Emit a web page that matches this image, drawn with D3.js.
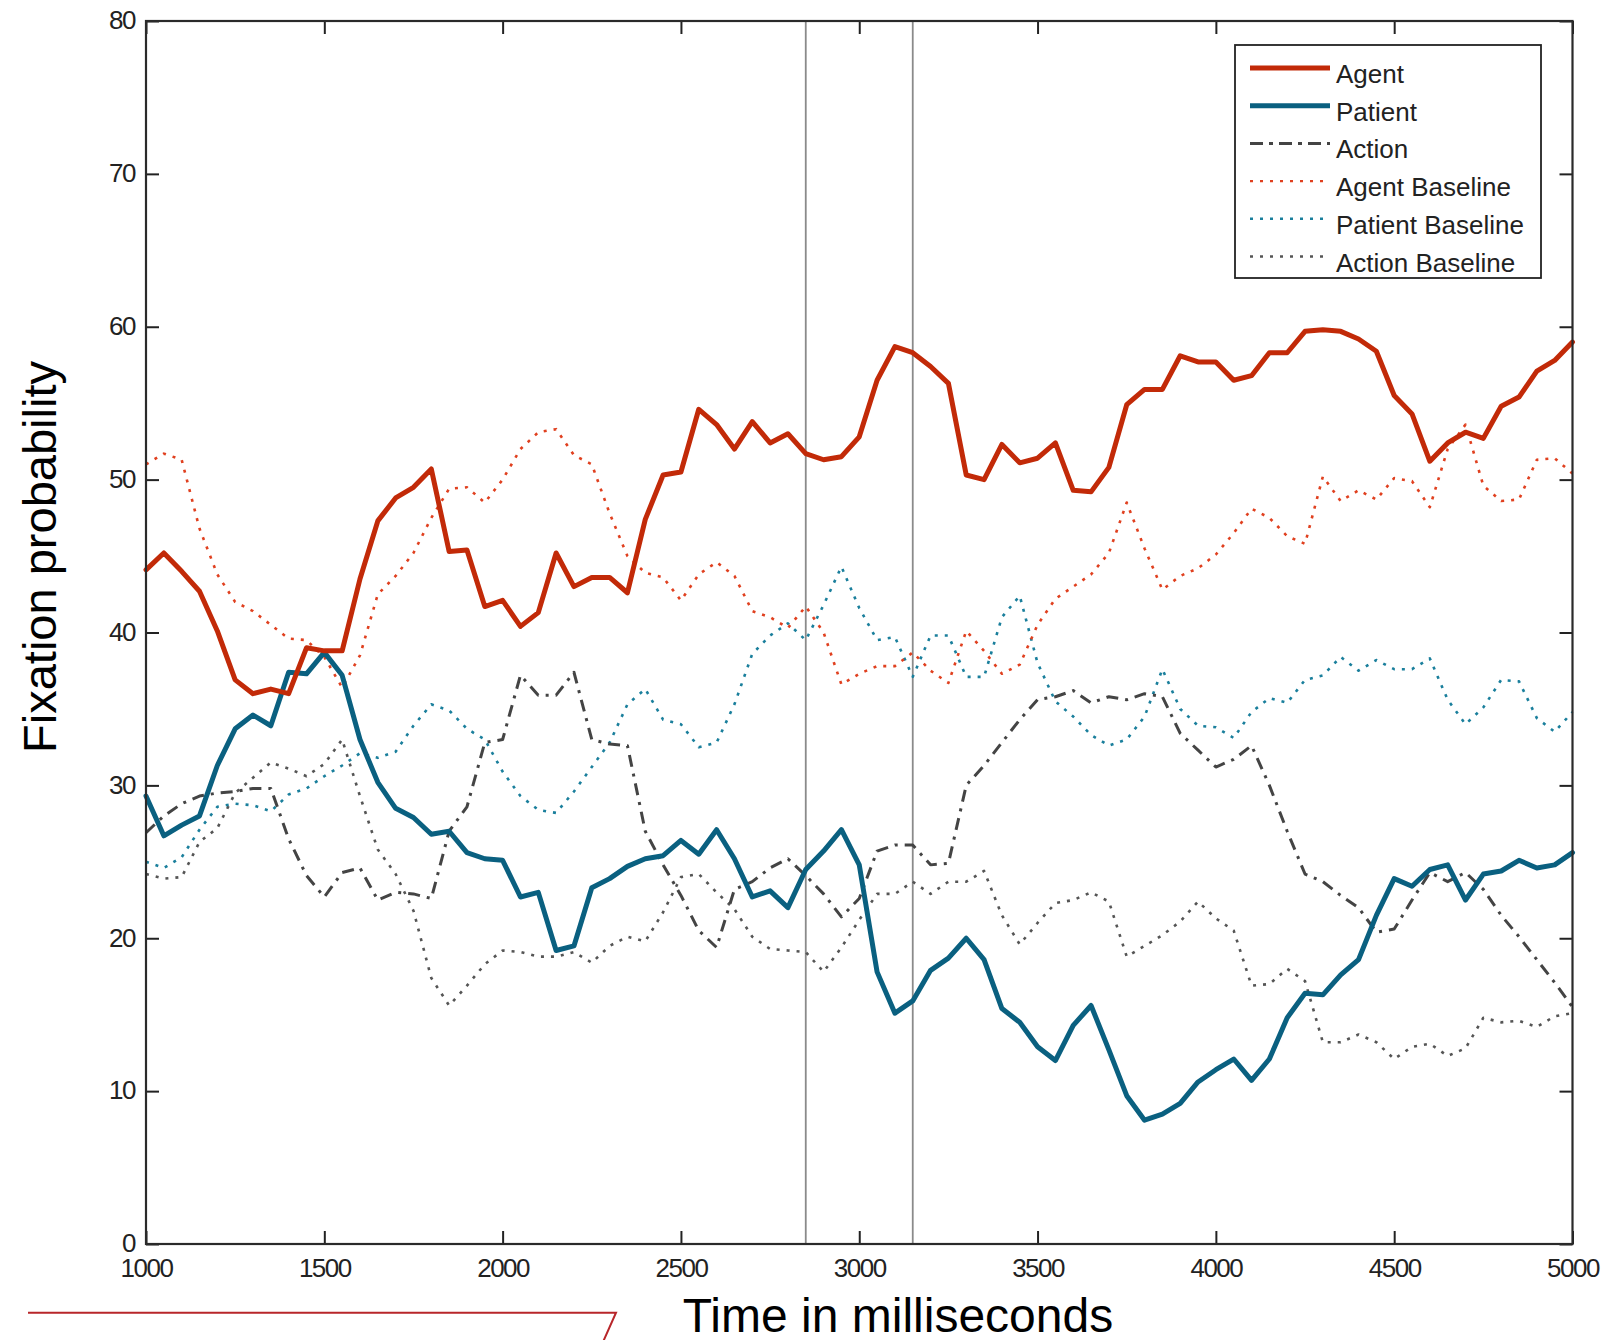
<!DOCTYPE html>
<html>
<head>
<meta charset="utf-8">
<script src="https://cdn.jsdelivr.net/npm/d3@7/dist/d3.min.js"></script>
<style>
  html, body { margin: 0; padding: 0; background: #fff; }
  svg { display: block; }
  .tick text { font-family: "Liberation Sans", Arial, sans-serif; font-size: 26px; fill: #222; letter-spacing: -1.5px; }
</style>
</head>
<body>
<svg id="chart" width="1602" height="1340"></svg>
<script>
// ---------- DATA ----------
const timeMs = [1000,1050,1100,1150,1200,1250,1300,1350,1400,1450,1500,1550,1600,1650,1700,1750,1800,1850,1900,1950,
  2000,2050,2100,2150,2200,2250,2300,2350,2400,2450,2500,2550,2600,2650,2700,2750,2800,2850,2900,2950,
  3000,3050,3100,3150,3200,3250,3300,3350,3400,3450,3500,3550,3600,3650,3700,3750,3800,3850,3900,3950,
  4000,4050,4100,4150,4200,4250,4300,4350,4400,4450,4500,4550,4600,4650,4700,4750,4800,4850,4900,4950,5000];

const agent = [44.1,45.2,44.0,42.7,40.1,36.9,36.0,36.3,36.0,39.0,38.8,38.8,43.5,47.3,48.8,49.5,50.7,45.3,45.4,41.7,
  42.1,40.4,41.3,45.2,43.0,43.6,43.6,42.6,47.4,50.3,50.5,54.6,53.6,52.0,53.8,52.4,53.0,51.7,51.3,51.5,
  52.8,56.5,58.7,58.3,57.4,56.3,50.3,50.0,52.3,51.1,51.4,52.4,49.3,49.2,50.8,54.9,55.9,55.9,58.1,57.7,
  57.7,56.5,56.8,58.3,58.3,59.7,59.8,59.7,59.2,58.4,55.5,54.3,51.2,52.4,53.1,52.7,54.8,55.4,57.1,57.8,59.0];

const patient = [29.3,26.7,27.4,28.0,31.3,33.7,34.6,33.9,37.4,37.3,38.7,37.2,33.0,30.2,28.5,27.9,26.8,27.0,25.6,25.2,
  25.1,22.7,23.0,19.2,19.5,23.3,23.9,24.7,25.2,25.4,26.4,25.5,27.1,25.2,22.7,23.1,22.0,24.5,25.7,27.1,
  24.8,17.8,15.1,15.9,17.9,18.7,20.0,18.6,15.4,14.5,12.9,12.0,14.3,15.6,12.7,9.7,8.1,8.5,9.2,10.6,
  11.4,12.1,10.7,12.1,14.8,16.4,16.3,17.6,18.6,21.5,23.9,23.4,24.5,24.8,22.5,24.2,24.4,25.1,24.6,24.8,25.6];

const action = [26.9,28.0,28.8,29.3,29.5,29.6,29.8,29.8,26.5,24.1,22.7,24.3,24.6,22.5,23.0,22.9,22.6,27.0,28.6,32.8,
  33.0,37.2,35.9,35.9,37.4,33.0,32.7,32.6,27.0,24.8,22.8,20.5,19.4,23.2,23.7,24.6,25.2,24.1,22.9,21.4,
  22.6,25.7,26.1,26.1,24.8,24.9,30.0,31.3,32.8,34.3,35.6,35.8,36.2,35.4,35.8,35.6,36.0,35.8,33.4,32.3,
  31.2,31.7,32.6,30.0,27.0,24.2,23.7,22.8,22.0,20.4,20.6,22.5,24.3,23.7,24.3,23.2,21.5,20.1,18.6,17.1,15.5];

const agentBaseline = [51.0,51.7,51.3,46.8,43.8,42.0,41.4,40.5,39.6,39.5,38.4,36.4,38.5,42.5,43.7,45.2,47.5,49.4,49.5,48.5,
  50.0,52.0,53.1,53.3,51.6,51.0,47.8,45.0,43.9,43.6,42.1,43.8,44.6,43.7,41.4,41.0,40.3,41.7,40.0,36.6,
  37.3,37.8,37.8,38.7,37.5,36.7,40.1,38.8,37.3,37.9,40.5,42.2,43.0,43.8,45.2,48.5,45.5,42.8,43.7,44.2,
  45.1,46.5,48.1,47.5,46.3,45.8,50.2,48.6,49.3,48.7,50.1,49.9,48.2,52.0,53.6,49.6,48.6,48.7,51.3,51.4,50.4];

const patientBaseline = [25.0,24.6,25.3,27.1,28.6,28.8,28.7,28.3,29.4,29.8,30.6,31.3,32.1,31.8,32.2,33.9,35.3,34.9,33.7,33.0,
  30.9,29.3,28.4,28.2,29.6,31.2,32.8,35.3,36.3,34.3,34.0,32.5,32.8,35.3,38.6,39.8,40.6,39.5,41.8,44.3,
  41.6,39.5,39.7,37.1,39.8,39.8,37.1,37.1,41.0,42.4,38.0,35.5,34.5,33.3,32.6,33.0,34.5,37.6,35.0,33.9,
  33.8,33.1,34.8,35.7,35.4,36.9,37.2,38.4,37.5,38.2,37.6,37.6,38.3,35.6,34.0,35.1,36.9,36.8,34.4,33.5,34.8];

const actionBaseline = [24.2,23.9,24.0,26.3,27.2,29.5,30.5,31.5,31.1,30.6,31.4,33.0,29.3,25.8,24.2,21.8,17.4,15.6,16.9,18.3,
  19.2,19.1,18.8,18.8,19.1,18.4,19.5,20.1,19.8,21.7,24.0,24.2,23.0,21.9,20.1,19.3,19.2,19.1,17.8,19.4,
  21.2,22.9,22.9,23.7,22.9,23.7,23.7,24.4,21.5,19.6,21.0,22.3,22.5,23.0,22.4,18.8,19.5,20.2,21.1,22.4,
  21.3,20.5,16.9,17.0,18.0,17.2,13.2,13.2,13.7,13.2,12.1,12.9,13.1,12.3,12.8,14.8,14.5,14.6,14.2,14.9,15.1];

const seriesNames = ["Agent","Patient","Action","Agent Baseline","Patient Baseline","Action Baseline"];
const xTickValues = [1000,1500,2000,2500,3000,3500,4000,4500,5000];
const yTickValues = [0,10,20,30,40,50,60,70,80];
const markerTimes = [2850,3150];
const xLabel = "Time in milliseconds";
const yLabel = "Fixation probability";

// ---------- STYLES ----------
const styles = {
  "Agent":            {color:"#c22a08", width:5,   dash:null},
  "Patient":          {color:"#0a6080", width:5,   dash:null},
  "Action":           {color:"#444444", width:3,   dash:"12,7,3,7"},
  "Agent Baseline":   {color:"#e0401f", width:2.6, dash:"3,7"},
  "Patient Baseline": {color:"#1a7f9c", width:2.6, dash:"3,7"},
  "Action Baseline":  {color:"#555555", width:2.6, dash:"3,7"}
};
const seriesData = {
  "Agent": agent, "Patient": patient, "Action": action,
  "Agent Baseline": agentBaseline, "Patient Baseline": patientBaseline, "Action Baseline": actionBaseline
};

// ---------- CHART ----------
const svg = d3.select("#chart");
const L = 146, R = 1572.5, T = 21, B = 1244;
const x = d3.scaleLinear().domain([1000,5000]).range([L,R]);
const y = d3.scaleLinear().domain([0,80]).range([B,T]);
const fmt = d3.format("d");

// marker vertical lines
svg.selectAll("line.marker").data(markerTimes).enter().append("line")
  .attr("class","marker")
  .attr("x1",d=>x(d)).attr("x2",d=>x(d))
  .attr("y1",T).attr("y2",B)
  .attr("stroke","#8a8a8a").attr("stroke-width",1.8);

// series
const lineGen = d3.line().x((d,i)=>x(timeMs[i])).y(d=>y(d));
const drawOrder = ["Action Baseline","Patient Baseline","Agent Baseline","Action","Patient","Agent"];
drawOrder.forEach(name=>{
  const s = styles[name];
  svg.append("path")
    .datum(seriesData[name])
    .attr("d", lineGen)
    .attr("fill","none")
    .attr("stroke", s.color)
    .attr("stroke-width", s.width)
    .attr("stroke-linejoin","round")
    .attr("stroke-linecap", s.dash ? "butt" : "round")
    .attr("stroke-dasharray", s.dash);
});

// axes (ticks inward, box on)
const axB = svg.append("g").attr("transform",`translate(0,${B})`)
  .call(d3.axisBottom(x).tickValues(xTickValues).tickFormat(fmt).tickSizeInner(-13).tickSizeOuter(0).tickPadding(15));
const axL = svg.append("g").attr("transform",`translate(${L},0)`)
  .call(d3.axisLeft(y).tickValues(yTickValues).tickFormat(fmt).tickSizeInner(-13).tickSizeOuter(0).tickPadding(11));
const axT = svg.append("g").attr("transform",`translate(0,${T})`)
  .call(d3.axisTop(x).tickValues(xTickValues).tickSizeInner(-13).tickSizeOuter(0).tickFormat(""));
const axR = svg.append("g").attr("transform",`translate(${R},0)`)
  .call(d3.axisRight(y).tickValues(yTickValues).tickSizeInner(-13).tickSizeOuter(0).tickFormat(""));
[axB,axL,axT,axR].forEach(g=>{
  g.select(".domain").remove();
  g.selectAll(".tick line").attr("stroke","#222").attr("stroke-width",2);
});
axL.selectAll(".tick text").attr("dy","0.3em");

// box
svg.append("rect").attr("x",L).attr("y",T).attr("width",R-L).attr("height",B-T)
  .attr("fill","none").attr("stroke","#2a2a2a").attr("stroke-width",2.2);

// axis labels
svg.append("text").text(xLabel)
  .attr("x",898).attr("y",1332).attr("text-anchor","middle")
  .attr("font-family","'Liberation Sans', Arial, sans-serif").attr("font-size",48).attr("fill","#000");
svg.append("text").text(yLabel)
  .attr("transform","translate(56,557) rotate(-90)").attr("text-anchor","middle")
  .attr("font-family","'Liberation Sans', Arial, sans-serif").attr("font-size",47).attr("fill","#000");

// legend
const lg = svg.append("g");
lg.append("rect").attr("x",1235).attr("y",45).attr("width",306).attr("height",233)
  .attr("fill","#fff").attr("stroke","#222").attr("stroke-width",1.8);
const rowY = d3.scaleLinear().domain([0,5]).range([68,256.5]);
seriesNames.forEach((name,i)=>{
  const s = styles[name];
  lg.append("line").attr("x1",1250).attr("x2",1330).attr("y1",rowY(i)).attr("y2",rowY(i))
    .attr("stroke",s.color).attr("stroke-width", s.dash && s.dash.length<5 ? 2.4 : s.width)
    .attr("stroke-dasharray", name==="Action" ? "13,6,4,6" : s.dash);
  lg.append("text").text(name).attr("x",1336).attr("y",rowY(i)+15)
    .attr("font-family","'Liberation Sans', Arial, sans-serif").attr("font-size",26).attr("fill","#222");
});

// decorative red line at bottom-left
svg.append("path").attr("d","M28,1312.7 L616,1312.7 L603,1342")
  .attr("fill","none").attr("stroke","#b8262a").attr("stroke-width",2);
</script>
</body>
</html>
